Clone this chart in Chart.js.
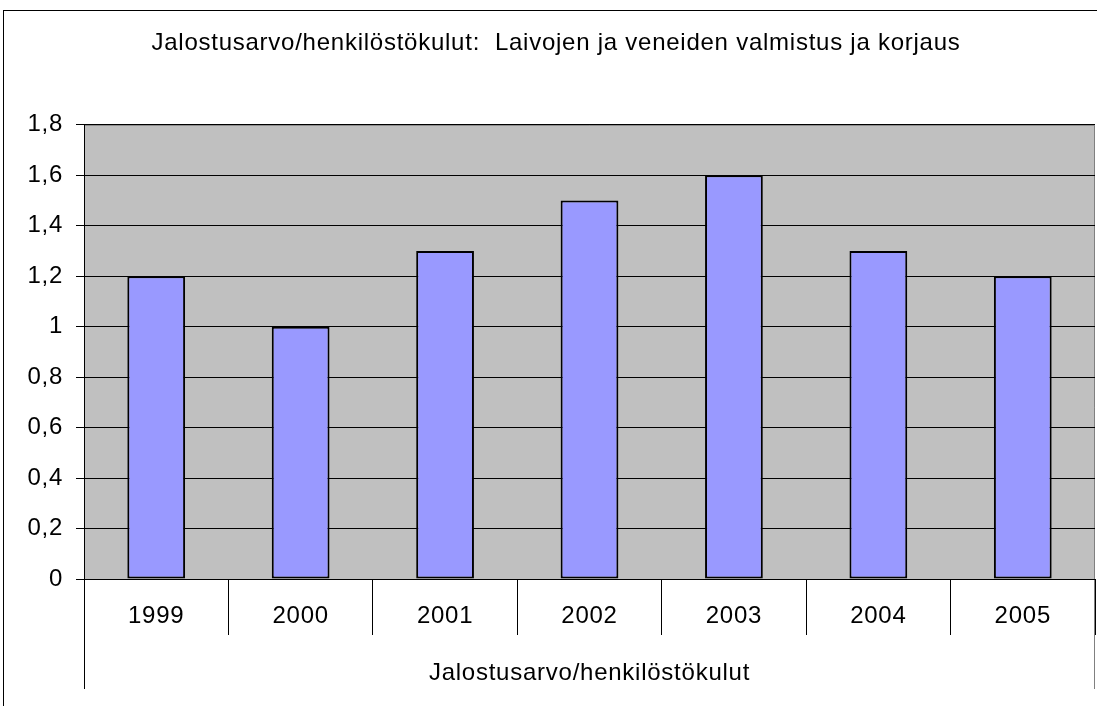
<!DOCTYPE html>
<html>
<head>
<meta charset="utf-8">
<script src="https://cdn.jsdelivr.net/npm/chart.js@4"></script>
<style>
  html, body { margin: 0; padding: 0; background: #fff; }
  #wrap { width: 1097px; height: 706px; position: relative; }
</style>
</head>
<body>
<div id="wrap"><canvas id="barChart"></canvas></div>
<script>
// Arvot luettu kuvasta
const years = ['1999', '2000', '2001', '2002', '2003', '2004', '2005'];
const values = [1.2, 1.0, 1.3, 1.5, 1.6, 1.3, 1.2];
const yMin = 0;
const yMax = 1.8;
const yStep = 0.2;
const chartTitle = 'Jalostusarvo/henkilöstökulut:  Laivojen ja veneiden valmistus ja korjaus';
const groupLabel = 'Jalostusarvo/henkilöstökulut';

const fontFamily = '"Liberation Sans", Arial, sans-serif';

// Kehys, harmaa piirtoalue ja pidemmät reunaviivat kategoria-akselilla
const frame = {
    id: 'frame',
    beforeLayout(chart) {
        chart.ctx.letterSpacing = '0.75px';
    },
    beforeDraw(chart) {
        const { ctx, chartArea: a } = chart;
        ctx.letterSpacing = '0.75px';
        ctx.save();
        ctx.strokeStyle = '#000';
        ctx.lineWidth = 1;
        ctx.strokeRect(3.5, 10.5, chart.width + 20, chart.height + 20);
        ctx.fillStyle = '#c0c0c0';
        ctx.fillRect(a.left, a.top, a.right - a.left, a.bottom - a.top);
        ctx.strokeStyle = '#808080';
        ctx.beginPath();
        ctx.moveTo(a.left, a.top + 0.5);
        ctx.lineTo(a.right - 0.5, a.top + 0.5);
        ctx.lineTo(a.right - 0.5, 689);
        ctx.stroke();
        ctx.restore();
    },
    afterDraw(chart) {
        const { ctx, chartArea: a } = chart;
        ctx.save();
        ctx.strokeStyle = '#000';
        ctx.lineWidth = 1;
        ctx.beginPath();
        ctx.moveTo(a.left + 0.5, a.bottom);
        ctx.lineTo(a.left + 0.5, 689);
        ctx.stroke();
        ctx.restore();
    }
};

const ctx = document.getElementById('barChart').getContext('2d');
const barChart = new Chart(ctx, {
    type: 'bar',
    data: {
        labels: years,
        datasets: [{
            label: groupLabel,
            data: values,
            backgroundColor: '#9999ff',
            borderColor: '#000',
            borderWidth: 2,
            borderSkipped: false,
            categoryPercentage: 1,
            barPercentage: 0.4
        }]
    },
    options: {
        responsive: true,
        maintainAspectRatio: false,
        animation: false,
        layout: { padding: { left: 17, right: 2, top: 0, bottom: 0 } },
        plugins: {
            legend: { display: false },
            tooltip: { enabled: false },
            title: {
                display: true,
                text: chartTitle,
                color: '#000',
                font: { family: fontFamily, size: 24, weight: 'normal' },
                padding: { top: 29, bottom: 67 }
            }
        },
        scales: {
            x: {
                grid: {
                    offset: true,
                    drawOnChartArea: false,
                    tickLength: 56,
                    color: '#000'
                },
                border: { color: '#000' },
                ticks: {
                    color: '#000',
                    font: { family: fontFamily, size: 24 },
                    padding: -33,
                    maxRotation: 0
                },
                title: {
                    display: true,
                    text: groupLabel,
                    color: '#000',
                    font: { family: fontFamily, size: 24 },
                    padding: { top: 0, bottom: 18 }
                },
                afterFit(scale) { scale.height = 127; }
            },
            y: {
                min: yMin,
                max: yMax,
                grid: { color: '#000', tickLength: 8 },
                border: { color: '#000' },
                ticks: {
                    stepSize: yStep,
                    color: '#000',
                    padding: 13,
                    font: { family: fontFamily, size: 24 },
                    callback: v => (Math.round(v * 10) / 10).toString().replace('.', ',')
                },
                afterFit(scale) { scale.width = 67; }
            }
        }
    },
    plugins: [frame]
});
</script>
</body>
</html>
